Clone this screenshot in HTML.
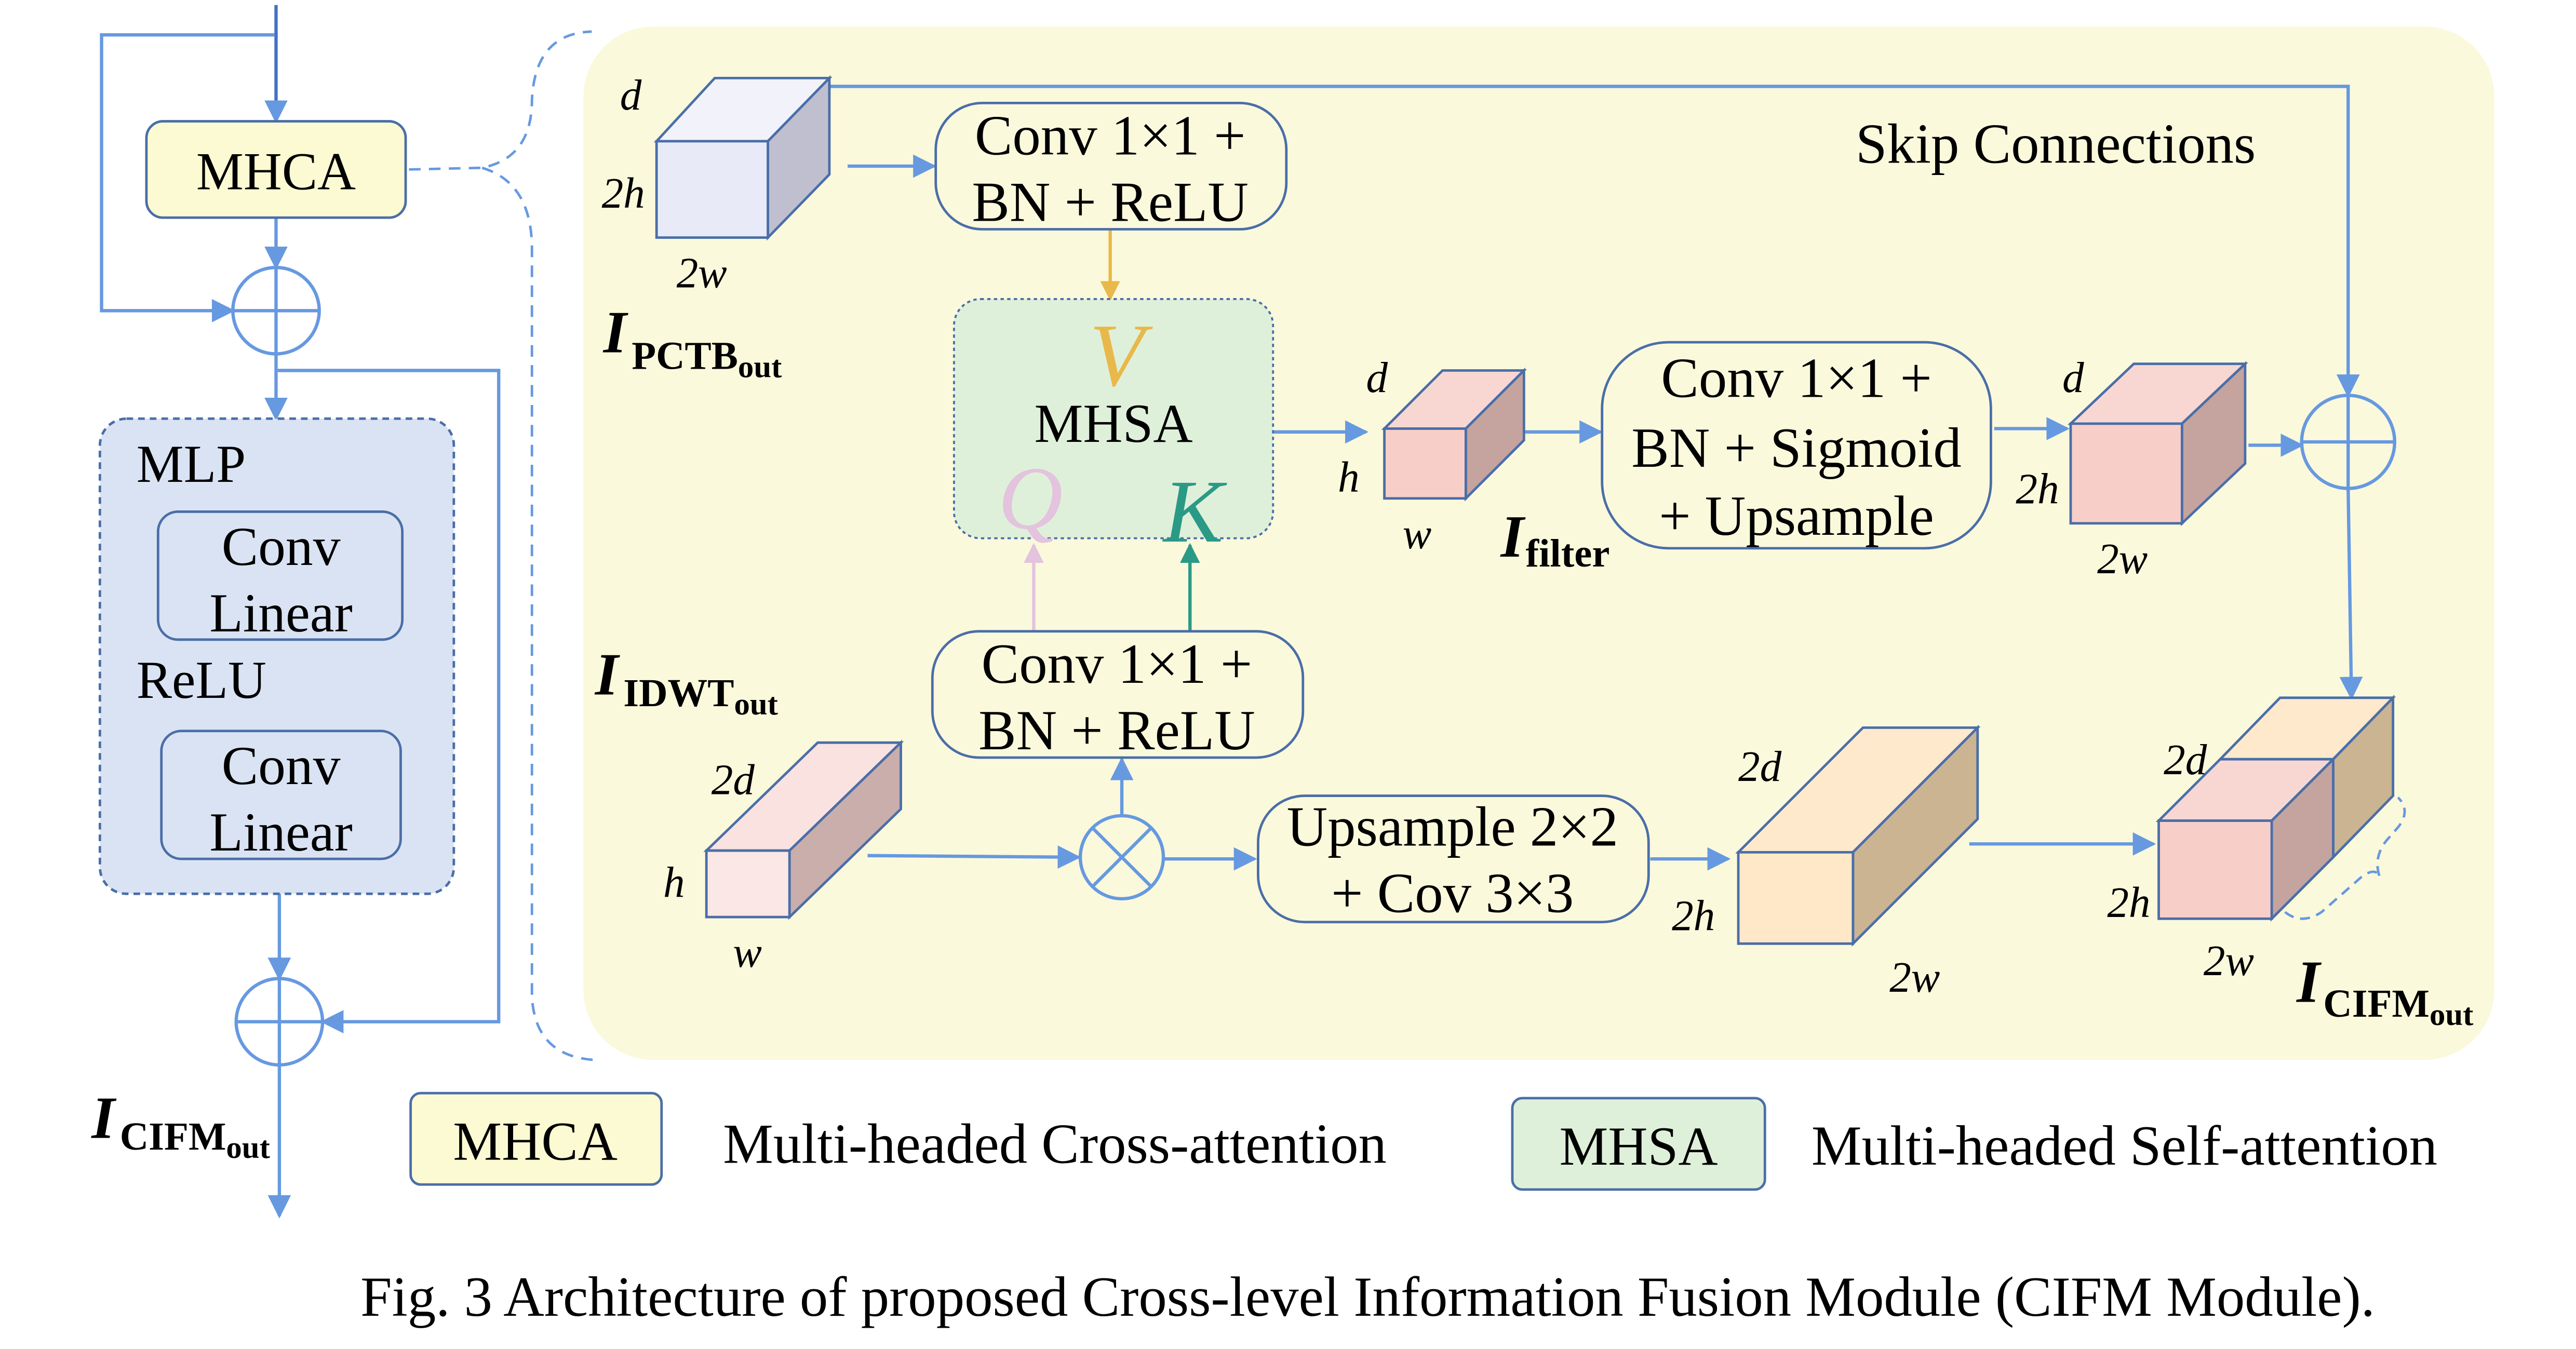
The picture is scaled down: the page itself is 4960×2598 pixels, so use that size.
<!DOCTYPE html>
<html><head><meta charset="utf-8"><style>
html,body{margin:0;padding:0;background:#fff;}
svg{display:block;}
text{font-family:"Liberation Serif",serif;}
</style></head><body>
<svg width="4960" height="2598" viewBox="0 0 1550 812" xmlns="http://www.w3.org/2000/svg">
<defs>
<marker id="ab" viewBox="0 0 10 10" refX="9" refY="5" markerWidth="14" markerHeight="14" orient="auto" markerUnits="userSpaceOnUse"><path d="M0,0 L10,5 L0,10 z" fill="#6699e0"/></marker>
<marker id="ao" viewBox="0 0 10 10" refX="9" refY="5" markerWidth="12" markerHeight="12" orient="auto" markerUnits="userSpaceOnUse"><path d="M0,0 L10,5 L0,10 z" fill="#e8b94a"/></marker>
<marker id="ap" viewBox="0 0 10 10" refX="9" refY="5" markerWidth="12" markerHeight="12" orient="auto" markerUnits="userSpaceOnUse"><path d="M0,0 L10,5 L0,10 z" fill="#e3c3dd"/></marker>
<marker id="at" viewBox="0 0 10 10" refX="9" refY="5" markerWidth="12" markerHeight="12" orient="auto" markerUnits="userSpaceOnUse"><path d="M0,0 L10,5 L0,10 z" fill="#2a9a86"/></marker>
</defs>
<g fill="none" stroke="#6699e0" stroke-width="2">
<line x1="166" y1="3" x2="166" y2="73" stroke="#4472c4" marker-end="url(#ab)"/>
<polyline points="165,21 61,21 61,187 140,187" marker-end="url(#ab)"/>
<line x1="166" y1="131" x2="166" y2="161" marker-end="url(#ab)"/>
<circle cx="166" cy="187" r="26"/>
<line x1="140" y1="187" x2="192" y2="187"/><line x1="166" y1="161" x2="166" y2="213"/>
<line x1="166" y1="213" x2="166" y2="252" marker-end="url(#ab)"/>
<polyline points="167,223 300,223 300,615 194,615" marker-end="url(#ab)"/>
<line x1="168" y1="538" x2="168" y2="589" marker-end="url(#ab)"/>
<circle cx="168" cy="615" r="26"/>
<line x1="142" y1="615" x2="194" y2="615"/><line x1="168" y1="589" x2="168" y2="641"/>
<line x1="168" y1="641" x2="168" y2="732" marker-end="url(#ab)"/>
<line x1="170" y1="386" x2="170" y2="438" marker-end="url(#ab)"/>
</g>
<rect x="88" y="73" width="156" height="58" rx="10" fill="#fcfad2" stroke="#4a6ea8" stroke-width="1.5"/>
<text x="166" y="114" font-size="32" text-anchor="middle">MHCA</text>
<rect x="60" y="252" width="213" height="286" rx="16" fill="#dae3f3" stroke="#4a6ea8" stroke-width="1.5" stroke-dasharray="4,3"/>
<text x="82" y="290" font-size="32">MLP</text>
<rect x="95" y="308" width="147" height="77" rx="12" fill="#dae3f3" stroke="#4a6ea8" stroke-width="1.5"/>
<text x="169" y="340" font-size="33" text-anchor="middle">Conv</text>
<text x="169" y="380" font-size="33" text-anchor="middle">Linear</text>
<text x="82" y="420" font-size="32">ReLU</text>
<rect x="97" y="440" width="144" height="77" rx="12" fill="#dae3f3" stroke="#4a6ea8" stroke-width="1.5"/>
<text x="169" y="472" font-size="33" text-anchor="middle">Conv</text>
<text x="169" y="512" font-size="33" text-anchor="middle">Linear</text>
<text x="55" y="685" font-size="36" font-weight="bold" font-style="italic">I</text>
<text x="72" y="692" font-size="24" font-weight="bold">CIFM<tspan font-size="19" dy="5">out</tspan></text>
<path d="M246,102 L290,101 Q320,95 320,60 Q322,20 356,19 M290,101 Q320,110 320,150 L320,600 Q322,636 358,638" fill="none" stroke="#6699e0" stroke-width="1.5" stroke-dasharray="7,5"/>
<rect x="351" y="16" width="1150" height="622" rx="42" fill="#fbf9dc"/>
<text x="1237" y="98" font-size="34" text-anchor="middle">Skip Connections</text>
<g fill="none" stroke="#6699e0" stroke-width="2">
<polyline points="499,52 1413,52 1413,238" marker-end="url(#ab)"/>
<circle cx="1413" cy="266" r="28"/>
<line x1="1385" y1="266" x2="1441" y2="266"/><line x1="1413" y1="238" x2="1413" y2="294"/>
<line x1="1413" y1="294" x2="1415" y2="420" marker-end="url(#ab)"/>
<line x1="510" y1="100" x2="562" y2="100" marker-end="url(#ab)"/>
<line x1="766" y1="260" x2="822" y2="260" marker-end="url(#ab)"/>
<line x1="917" y1="260" x2="963" y2="260" marker-end="url(#ab)"/>
<line x1="1200" y1="258" x2="1244" y2="258" marker-end="url(#ab)"/>
<line x1="1353" y1="268" x2="1385" y2="268" marker-end="url(#ab)"/>
<line x1="522" y1="515" x2="649" y2="516" marker-end="url(#ab)"/>
<circle cx="675" cy="516" r="25"/>
<line x1="657" y1="498" x2="693" y2="534"/><line x1="693" y1="498" x2="657" y2="534"/>
<line x1="675" y1="491" x2="675" y2="457" marker-end="url(#ab)"/>
<line x1="700" y1="517" x2="755" y2="517" marker-end="url(#ab)"/>
<line x1="993" y1="517" x2="1040" y2="517" marker-end="url(#ab)"/>
<line x1="1185" y1="508" x2="1296" y2="508" marker-end="url(#ab)"/>
</g>
<line x1="668" y1="138" x2="668" y2="180" stroke="#e8b94a" stroke-width="2" marker-end="url(#ao)"/>
<line x1="622" y1="380" x2="622" y2="328" stroke="#e3c3dd" stroke-width="2" marker-end="url(#ap)"/>
<line x1="716" y1="380" x2="716" y2="328" stroke="#2a9a86" stroke-width="2" marker-end="url(#at)"/>
<g fill="#fbf9dc" stroke="#4a6ea8" stroke-width="1.5">
<rect x="563" y="62" width="211" height="76" rx="28"/>
<rect x="561" y="380" width="223" height="76" rx="28"/>
<rect x="964" y="206" width="234" height="124" rx="40"/>
<rect x="757" y="479" width="235" height="76" rx="28"/>
</g>
<g font-size="34" text-anchor="middle">
<text x="668" y="93">Conv 1×1 +</text><text x="668" y="133">BN + ReLU</text>
<text x="672" y="411">Conv 1×1 +</text><text x="672" y="451">BN + ReLU</text>
<text x="1081" y="239">Conv 1×1 +</text><text x="1081" y="281">BN + Sigmoid</text><text x="1081" y="322">+ Upsample</text>
<text x="874" y="509">Upsample 2×2</text><text x="874" y="549">+ Cov 3×3</text>
</g>
<rect x="574" y="180" width="192" height="144" rx="16" fill="#dff0da" stroke="#4a6ea8" stroke-width="1.2" stroke-dasharray="2,2"/>
<text x="672" y="232" font-size="54" font-style="italic" fill="#e8b94a" text-anchor="middle">V</text>
<text x="670" y="266" font-size="33" text-anchor="middle">MHSA</text>
<text x="620" y="318" font-size="54" font-style="italic" fill="#e3c3dd" text-anchor="middle">Q</text>
<text x="718" y="326" font-size="54" font-style="italic" fill="#2a9a86" text-anchor="middle">K</text>
<g stroke="#4a6ea8" stroke-width="1.5">
<polygon points="395,85 430,47 499,47 462,85" fill="#f2f2fa"/>
<polygon points="462,85 499,47 499,105 462,143" fill="#bfbfcf"/>
<rect x="395" y="85" width="67" height="58" fill="#e8eaf8"/>
<polygon points="833,258 868,223 917,223 882,258" fill="#f8d7d3"/>
<polygon points="882,258 917,223 917,265 882,300" fill="#c5a39e"/>
<rect x="833" y="258" width="49" height="42" fill="#f8cfc8"/>
<polygon points="1246,255 1284,219 1351,219 1313,255" fill="#f8d7d3"/>
<polygon points="1313,255 1351,219 1351,279 1313,315" fill="#c5a39e"/>
<rect x="1246" y="255" width="67" height="60" fill="#f8cfc8"/>
<polygon points="425,512 492,447 542,447 475,512" fill="#f9e2e0"/>
<polygon points="475,512 542,447 542,487 475,552" fill="#c9aeab"/>
<rect x="425" y="512" width="50" height="40" fill="#fbe7e5"/>
<polygon points="1046,513 1121,438 1190,438 1115,513" fill="#fee9cc"/>
<polygon points="1115,513 1190,438 1190,493 1115,568" fill="#cbb491"/>
<rect x="1046" y="513" width="69" height="55" fill="#fee8c8"/>
<polygon points="1336,457 1372,420 1440,420 1404,457" fill="#fee9cc"/>
<polygon points="1404,457 1440,420 1440,479 1404,516" fill="#cbb491"/>
<polygon points="1299,494 1336,457 1404,457 1367,494" fill="#f8d7d3"/>
<polygon points="1367,494 1404,457 1404,516 1367,553" fill="#c5a39e"/>
<rect x="1299" y="494" width="68" height="59" fill="#f8cfc8"/>
</g>
<path d="M1375,549 Q1385,557 1397,549 L1422,527 Q1430,522 1432,528 Q1428,516 1436,506 L1443,498 Q1451,488 1443,480" fill="none" stroke="#6699e0" stroke-width="1.5" stroke-dasharray="6,4"/>
<g font-size="26" font-style="italic">
<text x="373" y="66">d</text><text x="362" y="125">2h</text><text x="407" y="173">2w</text>
<text x="822" y="236">d</text><text x="805" y="296">h</text><text x="844" y="330">w</text>
<text x="1241" y="236">d</text><text x="1213" y="303">2h</text><text x="1262" y="345">2w</text>
<text x="428" y="478">2d</text><text x="399" y="540">h</text><text x="441" y="582">w</text>
<text x="1046" y="470">2d</text><text x="1006" y="560">2h</text><text x="1137" y="597">2w</text>
<text x="1302" y="466">2d</text><text x="1268" y="552">2h</text><text x="1326" y="587">2w</text>
</g>
<g font-weight="bold">
<text x="363" y="212" font-size="36" font-style="italic">I</text><text x="380" y="222" font-size="24">PCTB<tspan font-size="19" dy="5">out</tspan></text>
<text x="358" y="418" font-size="36" font-style="italic">I</text><text x="375" y="425" font-size="24">IDWT<tspan font-size="19" dy="5">out</tspan></text>
<text x="903" y="335" font-size="36" font-style="italic">I</text><text x="918" y="341" font-size="24">filter</text>
<text x="1382" y="603" font-size="36" font-style="italic">I</text><text x="1398" y="612" font-size="24">CIFM<tspan font-size="19" dy="5">out</tspan></text>
</g>
<rect x="247" y="658" width="151" height="55" rx="6" fill="#fcfad2" stroke="#4a6ea8" stroke-width="1.5"/>
<text x="322" y="698" font-size="33" text-anchor="middle">MHCA</text>
<text x="435" y="700" font-size="34">Multi-headed Cross-attention</text>
<rect x="910" y="661" width="152" height="55" rx="6" fill="#dff0da" stroke="#4a6ea8" stroke-width="1.5"/>
<text x="986" y="701" font-size="33" text-anchor="middle">MHSA</text>
<text x="1090" y="701" font-size="34">Multi-headed Self-attention</text>
<text x="823" y="792" font-size="34" text-anchor="middle">Fig. 3 Architecture of proposed Cross-level Information Fusion Module (CIFM Module).</text>
</svg>
</body></html>
